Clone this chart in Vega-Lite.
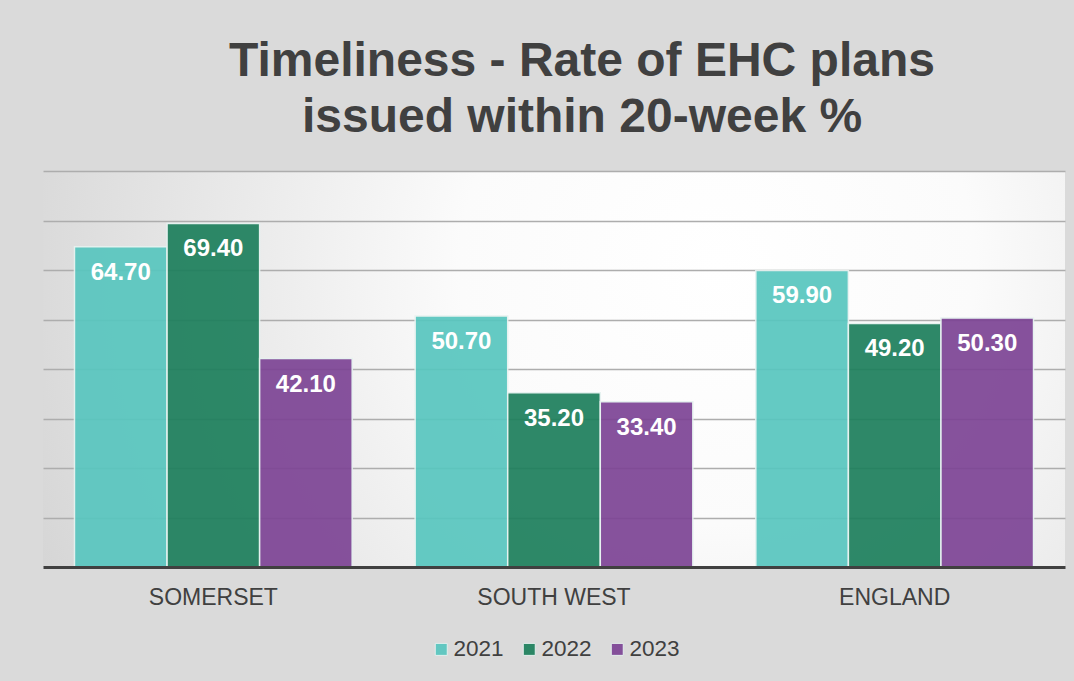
{
  "$schema": "https://vega.github.io/schema/vega-lite/v6.json",
  "width": 1022,
  "height": 396,
  "autosize": "none",
  "padding": {"left": 43, "top": 171, "right": 9, "bottom": 114},
  "background": "#dadada",
  "config": {
    "view": {
      "stroke": null,
      "fill": {
        "gradient": "radial",
        "x1": 0.66, "y1": 0.4, "r1": 0,
        "x2": 0.66, "y2": 0.4, "r2": 0.72,
        "stops": [
          {"offset": 0, "color": "#ffffff"},
          {"offset": 0.35, "color": "#fbfbfb"},
          {"offset": 1, "color": "#d6d6d6"}
        ]
      }
    },
    "font": "Liberation Sans"
  },
  "title": {
    "text": ["Timeliness - Rate of EHC plans", "issued within 20-week %"],
    "fontSize": 48,
    "font": "Liberation Sans",
    "fontWeight": "bold",
    "color": "#404040",
    "lineHeight": 56,
    "anchor": "middle",
    "dx": 28,
    "offset": 29
  },
  "data": {
    "values": [
      {"region": "SOMERSET", "year": "2021", "value": 64.7},
      {"region": "SOMERSET", "year": "2022", "value": 69.4},
      {"region": "SOMERSET", "year": "2023", "value": 42.1},
      {"region": "SOUTH WEST", "year": "2021", "value": 50.7},
      {"region": "SOUTH WEST", "year": "2022", "value": 35.2},
      {"region": "SOUTH WEST", "year": "2023", "value": 33.4},
      {"region": "ENGLAND", "year": "2021", "value": 59.9},
      {"region": "ENGLAND", "year": "2022", "value": 49.2},
      {"region": "ENGLAND", "year": "2023", "value": 50.3}
    ]
  },
  "encoding": {
    "x": {
      "field": "region",
      "type": "nominal",
      "sort": ["SOMERSET", "SOUTH WEST", "ENGLAND"],
      "scale": {"paddingInner": 0, "paddingOuter": 0},
      "axis": {
        "title": null,
        "labelAngle": 0,
        "labelFontSize": 23,
        "labelColor": "#404040",
        "labelFont": "Liberation Sans",
        "domainColor": "#404040",
        "domainWidth": 3,
        "ticks": false,
        "tickSize": 0,
        "labelPadding": 19,
        "zindex": 1
      }
    },
    "xOffset": {
      "field": "year",
      "type": "nominal",
      "scale": {"paddingInner": 0, "paddingOuter": 0.34}
    },
    "y": {
      "field": "value",
      "type": "quantitative",
      "scale": {"domain": [0, 80]},
      "axis": {
        "title": null,
        "labels": false,
        "ticks": false,
        "domain": false,
        "values": [10, 20, 30, 40, 50, 60, 70, 80],
        "gridColor": "#adadad",
        "gridWidth": 1.3
      }
    }
  },
  "layer": [
    {
      "mark": {"type": "bar", "opacity": 0.92, "stroke": "#e6f2f0", "strokeWidth": 1.5},
      "encoding": {
        "color": {
          "field": "year",
          "type": "nominal",
          "scale": {"domain": ["2021", "2022", "2023"], "range": ["#58c6bf", "#1d7f5c", "#7d4495"]},
          "legend": {
            "title": null,
            "orient": "none",
            "legendX": 387,
            "legendY": 467,
            "direction": "horizontal",
            "labelFontSize": 22.5,
            "labelColor": "#404040",
            "labelFont": "Liberation Sans",
            "symbolType": "square",
            "symbolSize": 144,
            "symbolStrokeWidth": 1,
            "labelOffset": 1,
            "columnPadding": 14
          }
        }
      }
    },
    {
      "mark": {"type": "text", "color": "white", "fontWeight": "bold", "fontSize": 24, "baseline": "middle", "dy": 26, "font": "Liberation Sans"},
      "encoding": {
        "text": {"field": "value", "type": "quantitative", "format": ".2f"}
      }
    }
  ]
}
